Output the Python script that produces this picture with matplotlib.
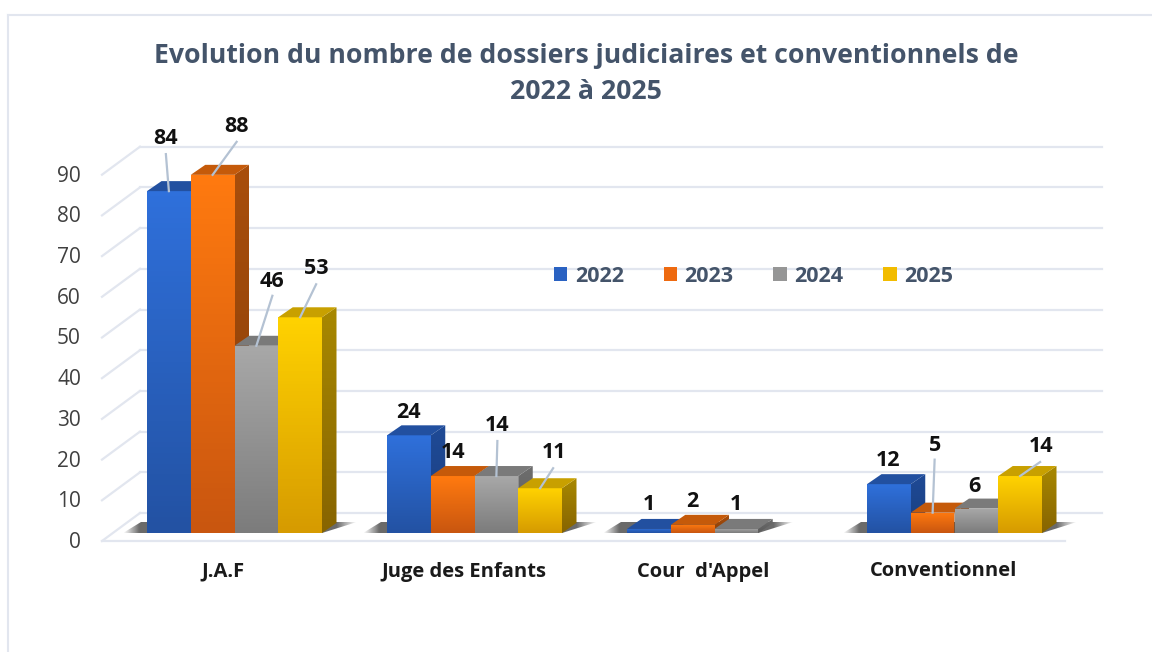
import numpy as np
import matplotlib.pyplot as plt
from matplotlib.colors import LinearSegmentedColormap
from matplotlib.patches import Patch, Polygon

plt.rcParams['font.family'] = ['Open Sans', 'DejaVu Sans']

# data
categories = ['J.A.F', 'Juge des Enfants', "Cour  d'Appel", 'Conventionnel']
years = ['2022', '2023', '2024', '2025']
v2022 = [84, 24, 1, 12]
v2023 = [88, 14, 2, 5]
v2024 = [46, 14, 1, 6]
v2025 = [53, 11, None, 14]
series = [v2022, v2023, v2024, v2025]
y_ticks = [0, 10, 20, 30, 40, 50, 60, 70, 80, 90]

# face colours per year: front top, front bottom, side top, side bottom, top face
face_colors = [
    ('#2F70DB', '#2352A3', '#1F4A96', '#1A3F80', '#2250A0'),
    ('#FF7A10', '#C9560F', '#A84E0C', '#8A3F08', '#C55A0A'),
    ('#A8A8A8', '#7C7C7C', '#6E6E6E', '#5A5A5A', '#7A7A7A'),
    ('#FFD200', '#D69B00', '#A88800', '#876400', '#C8A000'),
]
legend_colors = ['#2A62C2', '#EE6A10', '#969696', '#F2BC00']

# label placement in pixels relative to the middle of the bar top, and leader line
# (label dx, label dy, leader start dx, leader start dy), None = no leader
label_place = [
    [(-3, -54, -3, -37), (24, -50, 24, -33), (16, -66, 16, -50), (16, -50, 16, -33)],
    [(0, -24, None, None), (0, -25, None, None), (1, -52, 1, -35), (14, -37, 13, -20)],
    [(0, -26, None, None), (0, -25, None, None), (0, -26, None, None), None],
    [(-1, -25, None, None), (2, -69, 2, -53), (-2, -24, None, None), (21, -31, 20, -14)],
]

# scale of the chart: pixels per category and per unit
PX_CAT = 240.0
PX_VAL = 4.07
X0_PX = 234.5
Y0_PX = 533.0
W, H = 1152, 652
BAR_W = 43.75 / PX_CAT
DX = 14.5 / PX_CAT
DY = 10 / PX_VAL
GREY = '#E2E6EF'
TEXT_SHIFT = 1.5  # text sits a bit high with va='center'


def px(x):
    return x / PX_CAT


def py(y):
    return y / PX_VAL


fig = plt.figure(figsize=(W / 100, H / 100), dpi=100)
ax = fig.add_axes([0, 0, 1, 1])
xlim = (-X0_PX / PX_CAT, (W - X0_PX) / PX_CAT)
ylim = ((Y0_PX - H) / PX_VAL, Y0_PX / PX_VAL)


def gradient_poly(points, c_top, c_bottom, zorder):
    pts = np.array(points)
    cmap = LinearSegmentedColormap.from_list('g', [c_top, c_bottom])
    im = ax.imshow(np.linspace(0, 1, 64).reshape(-1, 1), cmap=cmap, aspect='auto', origin='upper',
                   extent=(pts[:, 0].min(), pts[:, 0].max(), pts[:, 1].min(), pts[:, 1].max()), zorder=zorder)
    poly = Polygon(pts, closed=True, transform=ax.transData, facecolor='none', edgecolor='none')
    ax.add_patch(poly)
    im.set_clip_path(poly)


# frame of the chart area
ax.plot([xlim[0] + px(8), xlim[0] + px(8)], [ylim[0], ylim[1] - py(15)], color=GREY, lw=1.5, zorder=1)
ax.plot([xlim[0] + px(8), xlim[1]], [ylim[1] - py(15), ylim[1] - py(15)], color=GREY, lw=1.5, zorder=1)

# back wall grid and left side lines
wall_l = px(140 - X0_PX)
wall_r = px(1102 - X0_PX)
front_l = px(102 - X0_PX)
front_r = px(1065 - X0_PX)
back_off = py(Y0_PX - 513)
front_off = py(541 - Y0_PX)
for t in y_ticks:
    ax.plot([wall_l, wall_r], [t + back_off, t + back_off], color=GREY, lw=1.6, zorder=1)
    ax.plot([front_l, wall_l], [t - front_off, t + back_off], color=GREY, lw=1.6, zorder=1)
    ax.text(px(81 - X0_PX), t - front_off - py(TEXT_SHIFT), str(t), ha='right', va='center', fontsize=15,
            color='#404040')
ax.plot([front_l, front_r], [-front_off, -front_off], color=GREY, lw=1.6, zorder=1)

# bars, group by group, from left to right
zo = 3
for i, cat in enumerate(categories):
    vals = [s[i] for s in series]
    n = len([v for v in vals if v is not None])
    left = i - 2 * BAR_W
    right = left + n * BAR_W

    # floor shadow, fading out to both sides
    sl = left - px(24)
    sr = right + px(35)
    xs = np.linspace(sl, sr, 200)
    alpha = np.clip(np.minimum((xs - sl) / px(16), (sr - xs) / px(20)), 0, 1) * 0.9
    rgba = np.zeros((1, 200, 4))
    rgba[..., 3] = alpha
    rgba[..., :3] = 0.35
    im = ax.imshow(rgba, aspect='auto', extent=(sl, sr, 0, py(11)), zorder=2)
    shadow = Polygon([(sl, 0), (right, 0), (sr, py(11)), (sl + px(18), py(11))], closed=True,
                     transform=ax.transData, facecolor='none', edgecolor='none')
    ax.add_patch(shadow)
    im.set_clip_path(shadow)

    for j, v in enumerate(vals):
        if v is None:
            continue
        x0 = left + j * BAR_W
        x1 = x0 + BAR_W
        ft, fb, st, sb, tp = face_colors[j]
        gradient_poly([(x0, 0), (x1, 0), (x1, v), (x0, v)], ft, fb, zo)
        gradient_poly([(x1, 0), (x1 + DX, DY), (x1 + DX, v + DY), (x1, v)], st, sb, zo)
        ax.add_patch(Polygon([(x0, v), (x1, v), (x1 + DX, v + DY), (x0 + DX, v + DY)], closed=True,
                             facecolor=tp, edgecolor='none', zorder=zo))
        zo += 1

    ax.text(i - px(11), py(Y0_PX - 570 - TEXT_SHIFT), cat, ha='center', va='center', fontsize=14.5,
            fontweight='bold', color='#1A1A1A')

# value labels and leader lines on top of the bars
for i in range(len(categories)):
    for j, s in enumerate(series):
        v = s[i]
        if v is None:
            continue
        xc = i - 2 * BAR_W + (j + 0.5) * BAR_W
        ldx, ldy, sdx, sdy = label_place[i][j]
        if sdx is not None:
            ax.plot([xc + px(sdx), xc], [v - py(sdy), v], color='#B4C2D3', lw=1.6, zorder=60)
        ax.text(xc + px(ldx), v - py(ldy + TEXT_SHIFT), str(v), ha='center', va='center', fontsize=15.5,
                fontweight='bold', color='#111111', zorder=61)

# title
ax.text(px(586 - X0_PX), py(Y0_PX - 56), 'Evolution du nombre de dossiers judiciaires et conventionnels de',
        ha='center', va='center', fontsize=19.2, fontweight='bold', color='#44546A')
ax.text(px(586 - X0_PX), py(Y0_PX - 92), '2022 à 2025',
        ha='center', va='center', fontsize=19.2, fontweight='bold', color='#44546A')

# legend
handles = [Patch(facecolor=legend_colors[k], label=years[k]) for k in range(len(years))]
leg = ax.legend(handles=handles, ncol=4, loc='center', bbox_to_anchor=(753.5 / W, 1 - 276.5 / H),
                frameon=False, handlelength=0.62, handleheight=0.62, handletextpad=0.35,
                columnspacing=1.85, labelcolor='#44546A', prop={'weight': 'bold', 'size': 15.5})

ax.set_xlim(xlim)
ax.set_ylim(ylim)
ax.axis('off')
fig.savefig('out.png', dpi=100, facecolor='white')
